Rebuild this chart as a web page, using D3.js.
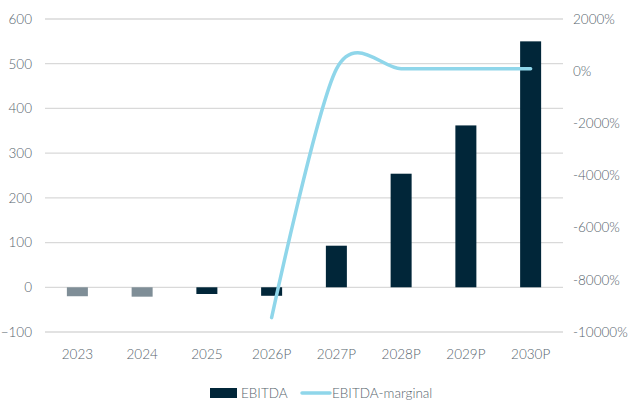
<!DOCTYPE html>
<html><head><meta charset="utf-8">
<script src="https://cdn.jsdelivr.net/npm/d3@7"></script>
<style>body{margin:0;background:#fff;} text{font-family:Lato,"Open Sans",sans-serif;font-weight:300;}</style>
</head><body><svg id="c" width="628" height="401"></svg>
<script>
const categories = ["2023","2024","2025","2026P","2027P","2028P","2029P","2030P"];
const ebitda = [-20, -21, -15, -19, 93, 254, 362, 550];
const ebitdaKind = ["actual","actual","plan","plan","plan","plan","plan","plan"];
const marginCats = ["2026P","2027P","2028P","2029P","2030P"];
const margin = [-9450, 80, 90, 90, 90];
const leftTicks = [-100,0,100,200,300,400,500,600];
const rightTicks = [-10000,-8000,-6000,-4000,-2000,0,2000];
const seriesNames = ["EBITDA","EBITDA-marginal"];

const svg = d3.select("#c");
const L = 45, R = 563, T = 19, B = 332;
const x = d3.scaleBand().domain(categories).range([L, R]).paddingInner(0).paddingOuter(0);
const yL = d3.scaleLinear().domain([-100, 600]).range([B, T]);
const yR = d3.scaleLinear().domain([-10000, 2000]).range([B, T]);
const txt = "#56646d";

svg.append("g").selectAll("line").data(leftTicks).join("line")
  .attr("x1", L).attr("x2", R).attr("y1", d => yL(d)).attr("y2", d => yL(d))
  .attr("stroke", "#d9d9d9").attr("stroke-width", 1.3);

const ax = svg.append("g").attr("transform", `translate(${L},0)`)
  .call(d3.axisLeft(yL).tickValues(leftTicks).tickSize(0).tickPadding(13));
ax.select(".domain").remove();
ax.selectAll("text").attr("fill", txt).attr("font-size", 13.5);

const axr = svg.append("g").attr("transform", `translate(${R},0)`)
  .call(d3.axisRight(yR).tickValues(rightTicks).tickSize(0).tickPadding(10).tickFormat(d => d + "%"));
axr.select(".domain").remove();
axr.selectAll("text").attr("fill", txt).attr("font-size", 13.5);

const axb = svg.append("g").attr("transform", `translate(0,${B})`)
  .call(d3.axisBottom(x).tickSize(0).tickPadding(17));
axb.select(".domain").remove();
axb.selectAll("text").attr("fill", txt).attr("font-size", 13.5);

const bw = 21;
svg.append("g").selectAll("rect").data(categories.map((c,i)=>({c, v: ebitda[i], k: ebitdaKind[i]}))).join("rect")
  .attr("x", d => x(d.c) + x.bandwidth()/2 - bw/2)
  .attr("width", bw)
  .attr("y", d => Math.min(yL(d.v), yL(0)))
  .attr("height", d => Math.abs(yL(d.v) - yL(0)))
  .attr("fill", d => d.k === "actual" ? "#7f8e97" : "#012639");

const line = d3.line().x(d => x(d.c) + x.bandwidth()/2).y(d => yR(d.v)).curve(d3.curveCardinal.tension(0.12));
svg.append("path").datum(marginCats.map((c,i)=>({c, v: margin[i]})))
  .attr("d", line).attr("fill", "none").attr("stroke", "#8fd6ea").attr("stroke-width", 3.5)
  .attr("stroke-linecap", "round");

const lg = svg.append("g");
lg.append("rect").attr("x", 210).attr("y", 388).attr("width", 27).attr("height", 10).attr("fill", "#012639");
lg.append("text").attr("x", 241).attr("y", 398).text(seriesNames[0]).attr("fill", txt).attr("font-size", 13.5);
lg.append("line").attr("x1", 302).attr("x2", 330).attr("y1", 393).attr("y2", 393)
  .attr("stroke", "#8fd6ea").attr("stroke-width", 3.5).attr("stroke-linecap", "round");
lg.append("text").attr("x", 332).attr("y", 398).text(seriesNames[1]).attr("fill", txt).attr("font-size", 13.5);
</script></body></html>
